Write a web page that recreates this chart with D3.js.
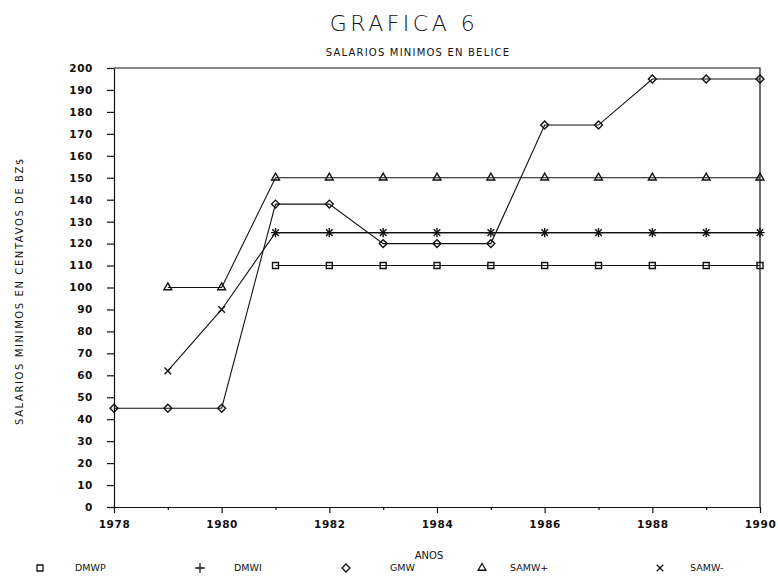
<!DOCTYPE html>
<html lang="en">
<head>
<meta charset="utf-8">
<title>Grafica 6 - Salarios minimos en Belice</title>
<style>
  body { margin: 0; background: #fff; }
  text { font-family: "DejaVu Sans", sans-serif; fill: #111; }
  .axis path, .axis line { stroke: #111; stroke-width: 1.2; }
  .axis text { font-size: 10.5px; font-weight: bold; letter-spacing: 0.6px; }
</style>
</head>
<body>
<svg width="778" height="583"></svg>
<script src="https://d3js.org/d3.v7.min.js"></script>
<script>

var years = [1978, 1979, 1980, 1981, 1982, 1983, 1984, 1985, 1986, 1987, 1988, 1989, 1990];
var dmwp  = [null, null, null, 110, 110, 110, 110, 110, 110, 110, 110, 110, 110];
var dmwi  = [null, null, null, 125, 125, 125, 125, 125, 125, 125, 125, 125, 125];
var gmw   = [45, 45, 45, 138, 138, 120, 120, 120, 174, 174, 195, 195, 195];
var sawmPlus  = [null, 100, 100, 150, 150, 150, 150, 150, 150, 150, 150, 150, 150];
var sawmMinus = [null, 62, 90, 125, 125, 125, 125, 125, 125, 125, 125, 125, 125];
var seriesNames = ["DMWP", "DMWI", "GMW", "SAMW+", "SAMW-"];
var yTicks = d3.range(0, 201, 10);
var xTicks = [1978, 1980, 1982, 1984, 1986, 1988, 1990];

var svg = d3.select("svg");
var margin = {top: 68, right: 18, bottom: 76, left: 114};
var width = 778 - margin.left - margin.right,
    height = 583 - margin.top - margin.bottom;

var x = d3.scaleLinear().domain([1978, 1990]).range([margin.left, margin.left + width]);
var y = d3.scaleLinear().domain([0, 200]).range([margin.top + height, margin.top]);

// symbols for each series
var symbols = [d3.symbolSquare2, d3.symbolPlus, d3.symbolDiamond2, d3.symbolTriangle2, d3.symbolTimes];
var sizes = [46, 30, 40, 44, 30];
var data = [dmwp, dmwi, gmw, sawmPlus, sawmMinus];

// titles
svg.append("text")
  .attr("x", 404).attr("y", 31)
  .attr("text-anchor", "middle")
  .style("font-size", "22px").style("font-weight", "200").style("letter-spacing", "3.5px")
  .text("GRAFICA 6");

svg.append("text")
  .attr("x", 418).attr("y", 56)
  .attr("text-anchor", "middle")
  .style("font-size", "10px").style("letter-spacing", "1.2px")
  .text("SALARIOS MINIMOS EN BELICE");

// frame top and right
svg.append("path")
  .attr("d", "M" + x(1978) + "," + y(200) + "H" + x(1990) + "V" + y(0))
  .attr("fill", "none").attr("stroke", "#111").attr("stroke-width", 1.2);

// axes
svg.append("g").attr("class", "axis")
  .attr("transform", "translate(" + margin.left + ",0)")
  .call(d3.axisLeft(y).tickValues(yTicks).tickSize(7).tickPadding(14).tickSizeOuter(0));

svg.append("g").attr("class", "axis")
  .attr("transform", "translate(0," + (margin.top + height) + ")")
  .call(d3.axisBottom(x).tickValues(years).tickFormat(function(d) { return xTicks.indexOf(d) >= 0 ? d : ""; })
    .tickSize(6).tickPadding(8).tickSizeOuter(0))
  .selectAll(".tick line")
  .attr("y2", function(d) { return xTicks.indexOf(d) >= 0 ? 6 : 3; });

svg.append("text")
  .attr("transform", "translate(23," + 291 + ") rotate(-90)")
  .attr("text-anchor", "middle")
  .style("font-size", "10px").style("letter-spacing", "1.6px")
  .text("SALARIOS MINIMOS EN CENTAVOS DE BZ$");

svg.append("text")
  .attr("x", 429).attr("y", 559)
  .attr("text-anchor", "middle")
  .style("font-size", "10px")
  .text("ANOS");

// lines and markers
var line = d3.line()
  .defined(function(d) { return d[1] != null; })
  .x(function(d) { return x(d[0]); })
  .y(function(d) { return y(d[1]); });

data.forEach(function(vals, i) {
  var pts = years.map(function(yr, j) { return [yr, vals[j]]; });
  svg.append("path")
    .datum(pts)
    .attr("d", line)
    .attr("fill", "none").attr("stroke", "#111").attr("stroke-width", 1.1);

  svg.append("g").selectAll("path")
    .data(pts.filter(function(d) { return d[1] != null; }))
    .enter().append("path")
      .attr("transform", function(d) { return "translate(" + x(d[0]) + "," + y(d[1]) + ")"; })
      .attr("d", d3.symbol().type(symbols[i]).size(sizes[i]))
      .attr("fill", "none").attr("stroke", "#111").attr("stroke-width", 1.4);
});

// legend
var legX = [40, 200, 346, 482, 660];
var legTextX = [75, 234, 390, 510, 690];
seriesNames.forEach(function(name, i) {
  svg.append("path")
    .attr("transform", "translate(" + legX[i] + ",568)")
    .attr("d", d3.symbol().type(symbols[i]).size(sizes[i]))
    .attr("fill", "none").attr("stroke", "#111").attr("stroke-width", 1.3);
  svg.append("text")
    .attr("x", legTextX[i]).attr("y", 571)
    .style("font-size", "9.5px")
    .text(name);
});

</script>
</body>
</html>
